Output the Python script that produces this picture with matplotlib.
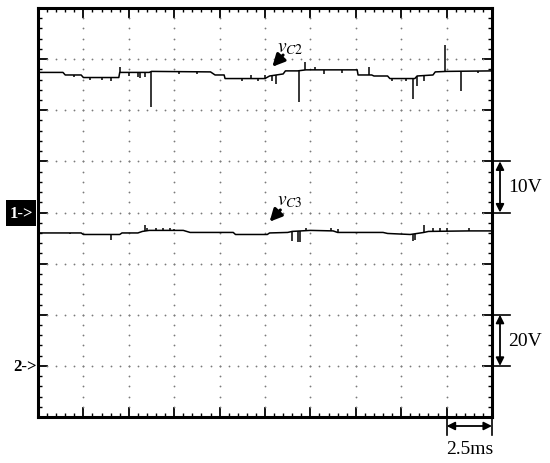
import numpy as np
import matplotlib
matplotlib.use("Agg")
import matplotlib.pyplot as plt
from matplotlib.patches import Rectangle

plt.rcParams['mathtext.fontset'] = 'stix'
plt.rcParams['font.family'] = ['Liberation Serif', 'DejaVu Serif']

# ---- data (divisions) ----
vc2_x = [0, 0.55, 0.6, 0.95, 1.0, 1.78, 1.8, 2.45, 2.5, 3.8, 3.9, 4.1, 4.12, 5.0, 5.1, 5.4, 5.45,
         5.72, 5.9, 7.03, 7.05, 7.35, 7.4, 7.7, 7.75, 8.3, 8.35, 8.7, 8.75, 9.0, 10]
vc2_y = [6.74, 6.74, 6.69, 6.69, 6.64, 6.64, 6.74, 6.74, 6.76, 6.75, 6.69, 6.69, 6.62, 6.62, 6.67,
         6.71, 6.77, 6.77, 6.79, 6.79, 6.69, 6.69, 6.67, 6.67, 6.62, 6.62, 6.67, 6.69, 6.75, 6.76, 6.77]
vc2_spike_x = [1.80, 2.48, 5.25, 5.74, 5.88, 7.30, 8.27, 8.35, 8.97, 9.31,
               0.8, 1.15, 1.4, 1.6, 2.0, 2.2, 2.25, 2.35, 3.1, 3.5, 4.5, 4.7, 4.85, 5.0, 5.15,
               6.1, 6.3, 6.7, 7.8, 8.1, 8.5, 9.7]
vc2_spike_y = [6.84, 6.07, 6.52, 6.16, 6.94, 6.85, 6.22, 6.48, 7.28, 6.37,
               6.65, 6.59, 6.59, 6.57, 6.67, 6.65, 6.63, 6.66, 6.71, 6.70, 6.57, 6.68, 6.57, 6.69, 6.57,
               6.84, 6.71, 6.72, 6.57, 6.57, 6.57, 6.73]

vc3_x = [0, 0.95, 1.0, 1.8, 1.85, 2.2, 2.3, 2.45, 3.2, 3.35, 4.3, 4.35, 5.05, 5.1, 5.5, 5.6,
         6.0, 6.5, 6.6, 7.6, 7.7, 8.2, 8.5, 8.6, 9.5, 10]
vc3_y = [3.60, 3.60, 3.57, 3.57, 3.60, 3.60, 3.63, 3.65, 3.65, 3.61, 3.61, 3.57, 3.57, 3.60, 3.61,
         3.63, 3.65, 3.64, 3.61, 3.61, 3.59, 3.57, 3.61, 3.63, 3.64, 3.64]
vc3_spike_x = [1.6, 2.35, 2.4, 2.6, 2.75, 2.9, 3.0, 5.6, 5.72, 5.78, 5.9, 6.45, 6.6,
               8.25, 8.3, 8.5, 8.7, 8.85, 9.0, 9.5, 0.7]
vc3_spike_y = [3.47, 3.75, 3.69, 3.69, 3.69, 3.69, 3.67, 3.45, 3.42, 3.43, 3.70, 3.69, 3.67,
               3.44, 3.47, 3.75, 3.69, 3.69, 3.69, 3.69, 3.57]

labels = {'c2': r'$v_{C2}$', 'c3': r'$v_{C3}$'}
scale_v1, scale_v2, scale_t = '10V', '20V', '2.5ms'

W, H = 550, 464
fig = plt.figure(figsize=(W / 100, H / 100), dpi=100)
ax = fig.add_axes([38 / W, 1 - 418 / H, (492 - 38) / W, (418 - 9) / H])
ax.set_xlim(0, 10)
ax.set_ylim(0, 8)

# dotted grid
gx = np.arange(1, 50) * 0.2
for yy in range(1, 8):
    ax.plot(gx, np.full_like(gx, yy), ls='none', marker='o', ms=1.3, mec='none', mfc='#7a7a7a')
gy = np.arange(1, 40) * 0.2
for xx in range(1, 10):
    ax.plot(np.full_like(gy, xx), gy, ls='none', marker='o', ms=1.3, mec='none', mfc='#7a7a7a')

# ticks
ax.set_xticks(range(0, 11))
ax.set_yticks(range(0, 9))
ax.set_xticks(np.arange(0, 50) * 0.2, minor=True)
ax.set_yticks(np.arange(0, 40) * 0.2, minor=True)
ax.tick_params(which='both', direction='in', top=True, right=True,
               labelbottom=False, labelleft=False, color='black')
ax.tick_params(which='major', length=7, width=1.3)
ax.tick_params(which='minor', length=3, width=1.0)
for s in ax.spines.values():
    s.set_linewidth(2.2)

# traces
for bx, by, sx, sy in [(vc2_x, vc2_y, vc2_spike_x, vc2_spike_y),
                       (vc3_x, vc3_y, vc3_spike_x, vc3_spike_y)]:
    ax.plot(bx, by, color='black', lw=1.1)
    base = np.interp(sx, bx, by)
    ax.vlines(sx, base, sy, color='black', lw=1.1)

# labels with arrows
ax.text(5.27, 7.15, labels['c2'], fontsize=14, ha='left', va='baseline')
ax.annotate('', xy=(5.12, 6.81), xytext=(5.44, 7.12),
            arrowprops=dict(arrowstyle='-|>', color='black', lw=2.2, mutation_scale=18))
ax.text(5.27, 4.17, labels['c3'], fontsize=14, ha='left', va='baseline')
ax.annotate('', xy=(5.06, 3.78), xytext=(5.38, 4.09),
            arrowprops=dict(arrowstyle='-|>', color='black', lw=2.2, mutation_scale=18))

# scale bars on the right
def px2x(px):
    return (px - 38) / 45.4

def py2y(py):
    return (418 - py) / 51.125

xa = px2x(500)
for y0, y1, lab in [(4, 5, scale_v1), (1, 2, scale_v2)]:
    for yy in (y0, y1):
        ax.plot([10, px2x(510)], [yy, yy], color='black', lw=1.2, clip_on=False)
    ax.annotate('', xy=(xa, y1), xytext=(xa, y0),
                arrowprops=dict(arrowstyle='<|-|>', color='black', lw=1.3,
                                mutation_scale=12, shrinkA=0, shrinkB=0),
                annotation_clip=False)
    ax.text(px2x(508), (y0 + y1) / 2, lab, fontsize=14, ha='left', va='center')

# time scale
yb = py2y(427)
for xx in (9, 10):
    ax.plot([xx, xx], [0, py2y(436)], color='black', lw=1.2, clip_on=False)
ax.annotate('', xy=(10, yb), xytext=(9, yb),
            arrowprops=dict(arrowstyle='<|-|>', color='black', lw=1.3,
                            mutation_scale=12, shrinkA=0, shrinkB=0),
            annotation_clip=False)
ax.text(9.52, py2y(450), scale_t, fontsize=14, ha='center', va='center')

# channel markers
fig.patches.append(Rectangle((6 / W, 1 - 227 / H), 30 / W, 26 / H, transform=fig.transFigure,
                             facecolor='black', edgecolor='none'))
fig.text(21 / W, 1 - 213.5 / H, '1->', color='white', fontsize=12, fontweight='bold',
         ha='center', va='center')
fig.text(25.5 / W, 1 - 367 / H, '2->', color='black', fontsize=12, fontweight='bold',
         ha='center', va='center')

fig.savefig('out.png', dpi=100)
